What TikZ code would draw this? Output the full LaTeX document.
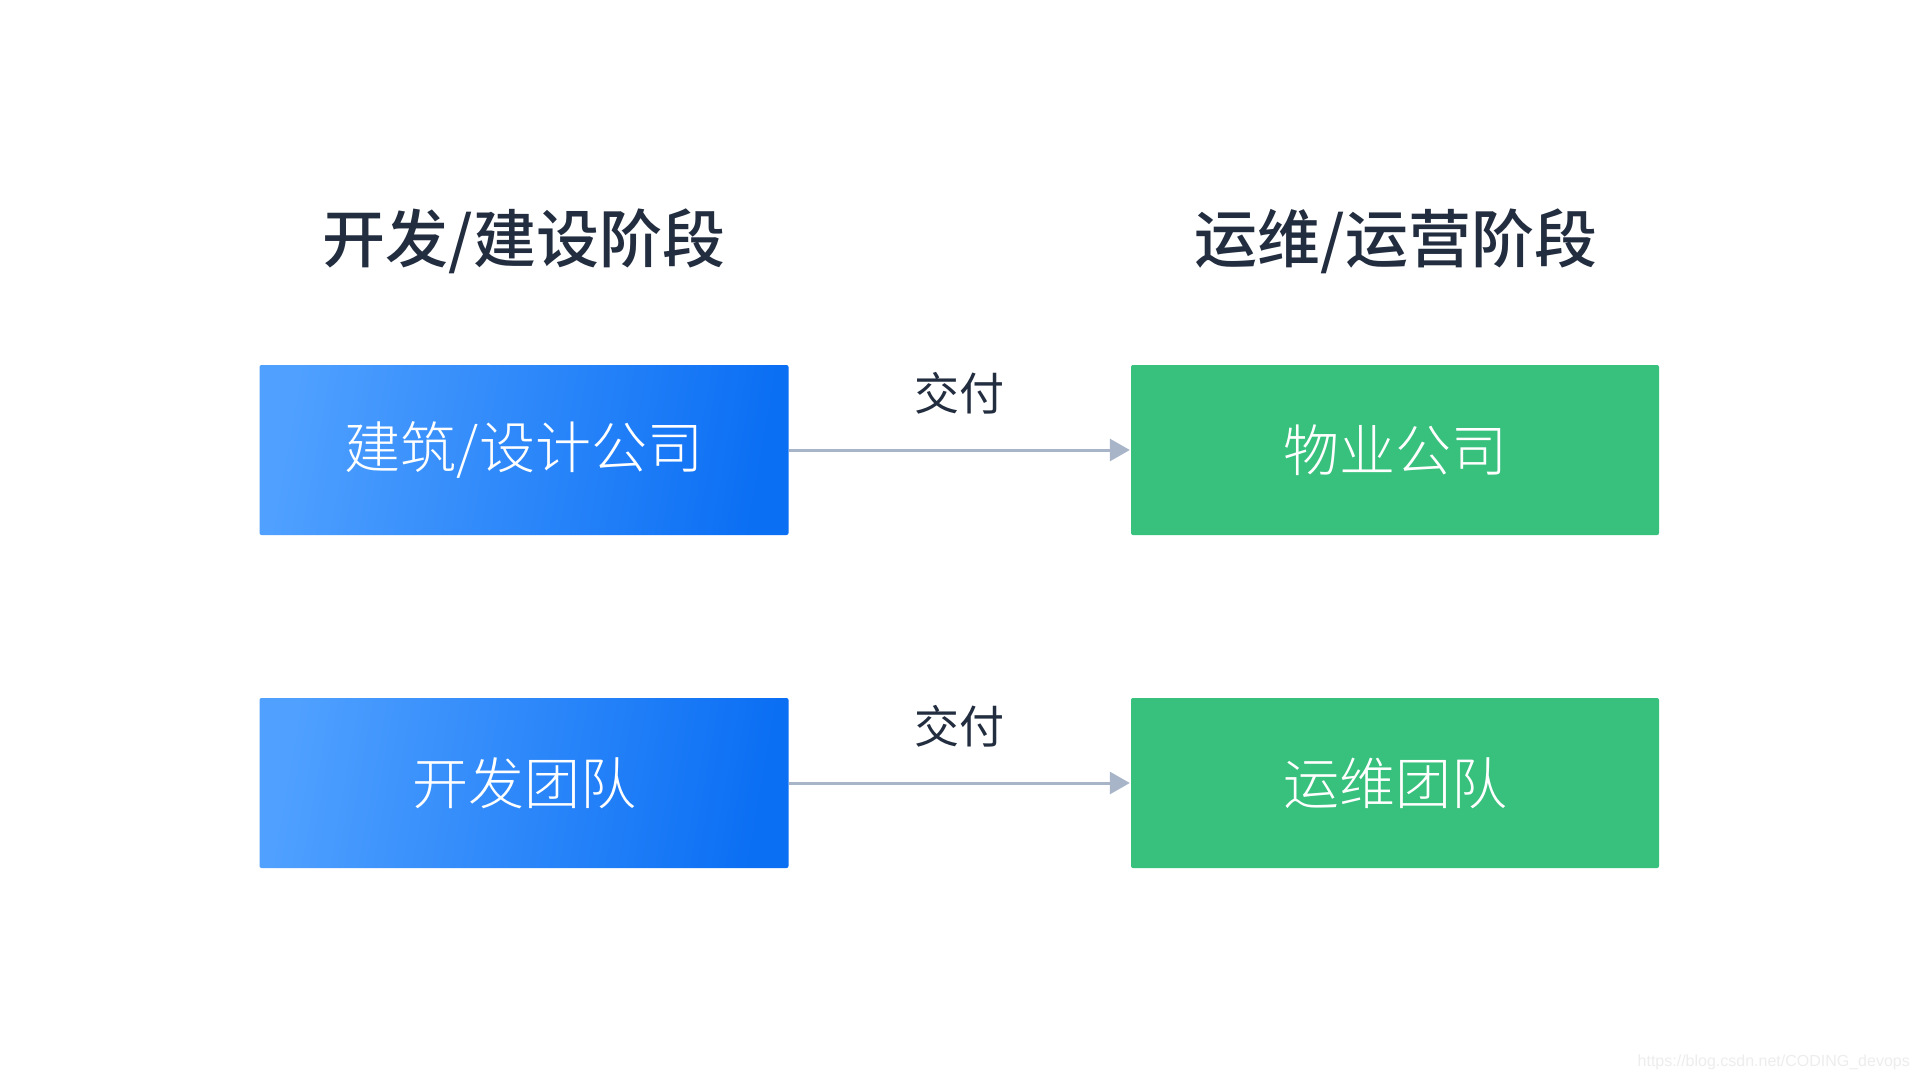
\documentclass[tikz,border=0pt]{standalone}
\usepackage{fontspec}
\newfontfamily\cjk{Noto Sans CJK SC}
\newfontfamily\cjkmed{Noto Sans CJK SC Medium}
\newfontfamily\cjklight{Noto Sans CJK SC Light}
\setsansfont{Liberation Sans}
\usetikzlibrary{arrows.meta}
\definecolor{headc}{HTML}{222D3F}
\definecolor{bluel}{HTML}{4FA0FF}
\definecolor{bluer}{HTML}{0B6FF4}
\definecolor{greenc}{HTML}{38C07D}
\definecolor{arrowc}{HTML}{A8B5C8}
\tikzset{
  heading/.style={font=\cjkmed\fontsize{63}{63}\selectfont, text=headc, inner sep=0pt},
  bluebox/.style={minimum width=529pt, minimum height=170pt, inner sep=0pt, rounded corners=2pt,
    left color=bluel, right color=bluer, shading angle=80, text=white, font=\cjklight\fontsize{56}{56}\selectfont},
  greenbox/.style={minimum width=528pt, minimum height=170pt, inner sep=0pt, rounded corners=2pt,
    fill=greenc, text=white, font=\cjklight\fontsize{56}{56}\selectfont},
  lbl/.style={font=\cjk\fontsize{45}{45}\selectfont, text=headc, inner sep=0pt},
  conn/.style={draw=arrowc, line width=3pt, -{Triangle[length=20pt,width=22pt]}, shorten >=1pt}
}
\begin{document}
\begin{tikzpicture}[x=1pt,y=-1pt]
\useasboundingbox[fill=white] (0,0) rectangle (1920,1080);
\node[heading] (h1) at (524,241) {开发/建设阶段};
\node[heading] (h2) at (1396,241) {运维/运营阶段};
\node[bluebox] (b1) at (524,450) {建筑/设计公司};
\node[greenbox] (g1) at (1395,450) {物业公司};
\node[bluebox] (b2) at (524,783) {开发团队};
\node[greenbox] (g2) at (1395,783) {运维团队};
\draw[conn] (b1.east) -- (g1.west);
\draw[conn] (b2.east) -- (g2.west);
\node[lbl] (l1) at (959,393) {交付};
\node[lbl] (l2) at (959,726) {交付};
\node[font=\sffamily\fontsize{16}{16}\selectfont, text=black!7, anchor=east, inner sep=0pt] (wm) at (1910,1062) {https://blog.csdn.net/CODING\_devops};
\end{tikzpicture}
\end{document}
